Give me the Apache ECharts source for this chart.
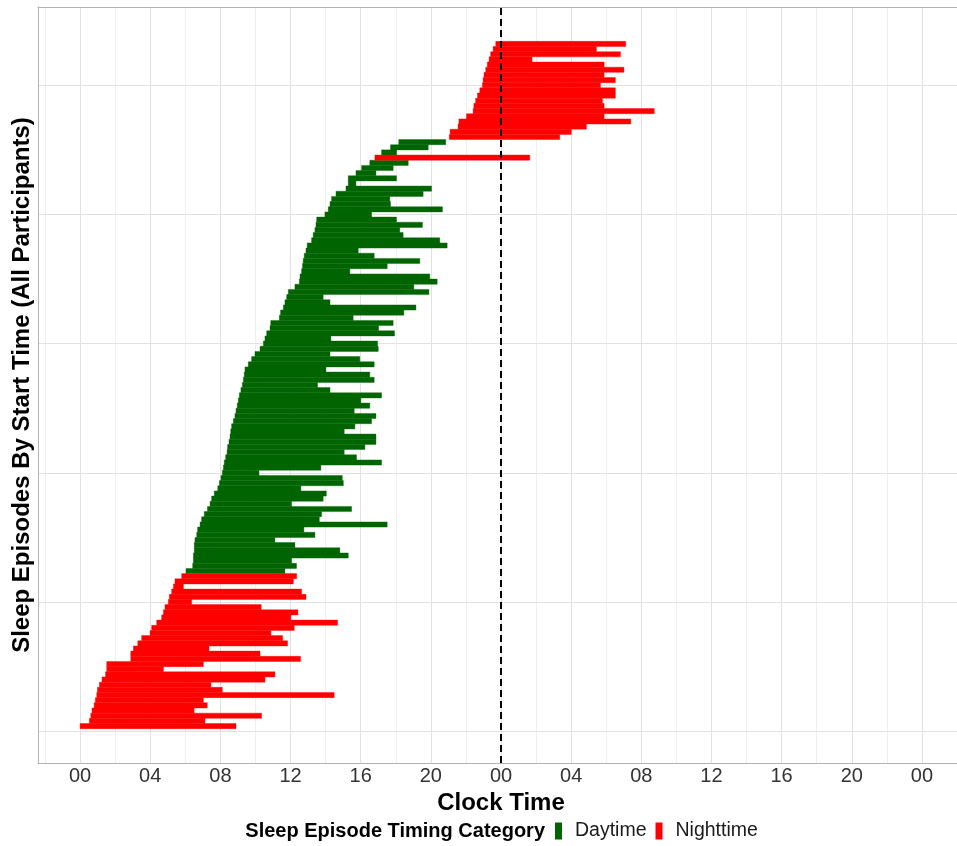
<!DOCTYPE html>
<html>
<head>
<meta charset="utf-8">
<script src="https://cdn.jsdelivr.net/npm/echarts@6/dist/echarts.min.js"></script>
<style>
  html, body { margin: 0; padding: 0; background: #fff; }
  #sleepChart { width: 957px; height: 846px; }
</style>
</head>
<body>
<div id="sleepChart"></div>
<script>
// sleep episodes, sorted by start time (episode 1 = bottom row)
const startHour = [
  0.00, 0.53, 0.61, 0.68, 0.80, 0.87, 0.95, 0.99, 1.10, 1.25,
  1.45, 1.52, 1.52, 2.89, 2.89, 3.04, 3.29, 3.51, 3.99, 4.08,
  4.37, 4.65, 4.75, 4.84, 5.03, 5.09, 5.22, 5.32, 5.41, 5.79,
  6.04, 6.42, 6.46, 6.46, 6.51, 6.51, 6.55, 6.65, 6.70, 6.84,
  6.93, 7.08, 7.26, 7.41, 7.50, 7.65, 7.85, 7.94, 8.03, 8.11,
  8.17, 8.22, 8.30, 8.38, 8.41, 8.49, 8.55, 8.59, 8.64, 8.74,
  8.83, 8.89, 8.96, 9.02, 9.08, 9.17, 9.25, 9.31, 9.36, 9.40,
  9.59, 9.78, 9.97, 10.26, 10.45, 10.54, 10.64, 10.83, 10.87, 11.36,
  11.43, 11.59, 11.68, 11.78, 11.87, 12.25, 12.50, 12.54, 12.63, 12.68,
  12.72, 12.78, 12.88, 12.95, 13.20, 13.29, 13.39, 13.45, 13.49, 13.96,
  14.15, 14.25, 14.34, 14.59, 15.16, 15.29, 15.29, 15.73, 16.05, 16.52,
  16.81, 17.19, 17.70, 18.17, 21.05, 21.10, 21.55, 21.60, 22.03, 22.41,
  22.45, 22.55, 22.66, 22.79, 22.94, 22.98, 23.03, 23.13, 23.22, 23.32,
  23.41, 23.55, 23.70
];
const endHour = [
  8.89, 7.12, 10.35, 6.50, 7.25, 7.03, 14.49, 8.11, 7.46, 10.54,
  11.11, 4.75, 7.03, 12.57, 10.26, 7.35, 11.83, 11.55, 10.88, 12.21,
  14.68, 12.02, 12.42, 10.33, 6.36, 12.88, 12.63, 5.89, 12.16, 12.35,
  11.68, 12.34, 12.06, 15.29, 14.81, 12.25, 11.11, 13.39, 12.76, 17.51,
  13.64, 13.77, 15.48, 12.06, 13.86, 14.04, 12.59, 15.01, 14.95, 10.20,
  13.73, 17.19, 15.76, 15.06, 16.24, 16.87, 16.87, 15.06, 15.67, 16.62,
  16.87, 15.63, 16.52, 16.01, 17.19, 14.25, 13.54, 16.77, 16.52, 14.02,
  16.77, 15.95, 14.25, 17.00, 16.96, 14.30, 17.93, 17.02, 17.85, 15.57,
  18.46, 19.15, 14.25, 13.86, 19.89, 19.03, 20.36, 19.94, 15.38, 17.51,
  19.37, 16.77, 15.86, 20.93, 20.51, 18.42, 18.23, 19.52, 18.04, 16.62,
  20.66, 17.70, 17.66, 19.56, 20.04, 15.73, 18.04, 16.87, 17.85, 18.71,
  25.64, 18.05, 19.85, 20.85, 27.35, 28.01, 28.87, 31.40, 29.88, 32.74,
  29.88, 29.78, 30.52, 30.52, 29.67, 30.52, 29.88, 31.01, 29.88, 25.77,
  30.81, 29.44, 31.11
];
// N = Nighttime, D = Daytime
const timing = [
  'N','N','N','N','N','N','N','N','N','N',
  'N','N','N','N','N','N','N','N','N','N',
  'N','N','N','N','N','N','N','N','N','N',
  'D','D','D','D','D','D','D','D','D','D',
  'D','D','D','D','D','D','D','D','D','D',
  'D','D','D','D','D','D','D','D','D','D',
  'D','D','D','D','D','D','D','D','D','D',
  'D','D','D','D','D','D','D','D','D','D',
  'D','D','D','D','D','D','D','D','D','D',
  'D','D','D','D','D','D','D','D','D','D',
  'D','D','D','D','D','D','D','D','D','D',
  'N','D','D','D','N','N','N','N','N','N',
  'N','N','N','N','N','N','N','N','N','N',
  'N','N','N'
];

const xTickValues = [0, 4, 8, 12, 16, 20, 24, 28, 32, 36, 40, 44, 48];
const xTickLabels = ['00', '04', '08', '12', '16', '20', '00', '04', '08', '12', '16', '20', '00'];
const xMinorValues = [-2, 2, 6, 10, 14, 18, 22, 26, 30, 34, 38, 42, 46, 50];
const yMajorValues = [0, 25, 50, 75, 100, 125];
const midnightHour = 24;

const FONT = "'Liberation Sans', Arial, sans-serif";
const dayColor = '#006400';
const nightColor = '#ff0000';
const borderColor = '#b3b3b3';

// the panel runs to 50.4h, a little past the right edge of the picture
const xMin = -2.4, xMax = 50.0;
const yMin = -6.15, yMax = 140.15;

function episodesOf(code) {
    let rows = [];
    startHour.forEach(function (s, i) {
        if (timing[i] == code) rows.push([s, endHour[i], i + 1]);
    });
    return rows;
}

function renderEpisode(params, api) {
    let topLeft = api.coord([api.value(0), api.value(2) + 0.5]);
    let bottomRight = api.coord([api.value(1), api.value(2) - 0.5]);
    return {
        type: 'rect',
        shape: {
            x: topLeft[0],
            y: topLeft[1],
            width: bottomRight[0] - topLeft[0],
            height: bottomRight[1] - topLeft[1]
        },
        style: { fill: api.visual('color'), stroke: api.visual('color'), lineWidth: 0.4 }
    };
}

function gridLines(axis, values, color) {
    return values.map(function (v) {
        let d = {};
        d[axis] = v;
        d.lineStyle = { color: color, width: 1, type: 'solid' };
        return d;
    });
}

let chart = echarts.init(document.getElementById('sleepChart'));

chart.setOption({
    backgroundColor: '#fff',
    animation: false,
    textStyle: { fontFamily: FONT },
    grid: {
        left: 38,
        top: 7,
        right: 0,
        bottom: 83,
        show: false
    },
    xAxis: [{
        type: 'value',
        min: xMin,
        max: xMax,
        axisLine: { show: true, onZero: false, lineStyle: { color: borderColor, width: 1 } },
        axisTick: { show: false, customValues: xTickValues },
        splitLine: { show: false },
        axisLabel: {
            customValues: xTickValues,
            formatter: function (v) {
                return xTickLabels[xTickValues.indexOf(v)];
            },
            fontSize: 20,
            color: '#333',
            margin: 3,
            fontFamily: FONT
        }
    }, {
        // top edge of the panel
        type: 'value',
        position: 'top',
        min: xMin,
        max: xMax,
        axisLine: { show: true, onZero: false, lineStyle: { color: borderColor, width: 1 } },
        axisTick: { show: false },
        axisLabel: { show: false },
        splitLine: { show: false }
    }],
    yAxis: {
        type: 'value',
        min: yMin,
        max: yMax,
        axisLine: { show: true, onZero: false, lineStyle: { color: borderColor, width: 1 } },
        axisTick: { show: false },
        axisLabel: { show: false },
        splitLine: { show: false }
    },
    legend: {
        data: ['Daytime', 'Nighttime'],
        left: 555,
        top: 821,
        padding: 0,
        icon: 'rect',
        itemWidth: 7,
        itemHeight: 17,
        itemGap: 9,
        textStyle: { fontSize: 19.5, color: '#1a1a1a', fontFamily: FONT, padding: [0, 0, 0, 8] }
    },
    graphic: [
        {
            type: 'text',
            x: 22,
            y: 385,
            rotation: Math.PI / 2,
            style: {
                text: 'Sleep Episodes By Start Time (All Participants)',
                font: 'bold 24px ' + FONT,
                fill: '#000',
                textAlign: 'center',
                textVerticalAlign: 'middle'
            }
        },
        {
            type: 'text',
            x: 501,
            y: 803,
            style: {
                text: 'Clock Time',
                font: 'bold 24px ' + FONT,
                fill: '#000',
                textAlign: 'center',
                textVerticalAlign: 'middle'
            }
        },
        {
            type: 'text',
            x: 545,
            y: 831,
            style: {
                text: 'Sleep Episode Timing Category',
                font: 'bold 20px ' + FONT,
                fill: '#000',
                textAlign: 'right',
                textVerticalAlign: 'middle'
            }
        }
    ],
    series: [
        {
            // panel grid lines
            name: 'grid',
            type: 'line',
            data: [],
            silent: true,
            markLine: {
                silent: true,
                symbol: 'none',
                z: 0,
                label: { show: false },
                data: []
                    .concat(gridLines('xAxis', xMinorValues, '#f0f0f0'))
                    .concat(gridLines('xAxis', xTickValues, '#e2e2e2'))
                    .concat(gridLines('yAxis', yMajorValues, '#e2e2e2'))
            }
        },
        {
            name: 'Daytime',
            type: 'custom',
            renderItem: renderEpisode,
            itemStyle: { color: dayColor },
            encode: { x: [0, 1], y: 2 },
            clip: true,
            z: 2,
            data: episodesOf('D')
        },
        {
            name: 'Nighttime',
            type: 'custom',
            renderItem: renderEpisode,
            itemStyle: { color: nightColor },
            encode: { x: [0, 1], y: 2 },
            clip: true,
            z: 2,
            data: episodesOf('N')
        },
        {
            // midnight reference line
            name: 'midnight',
            type: 'line',
            data: [],
            silent: true,
            z: 5,
            markLine: {
                silent: true,
                symbol: 'none',
                z: 5,
                label: { show: false },
                lineStyle: { color: '#000', width: 2, type: [7, 4] },
                data: [{ xAxis: midnightHour }]
            }
        }
    ]
});
</script>
</body>
</html>
